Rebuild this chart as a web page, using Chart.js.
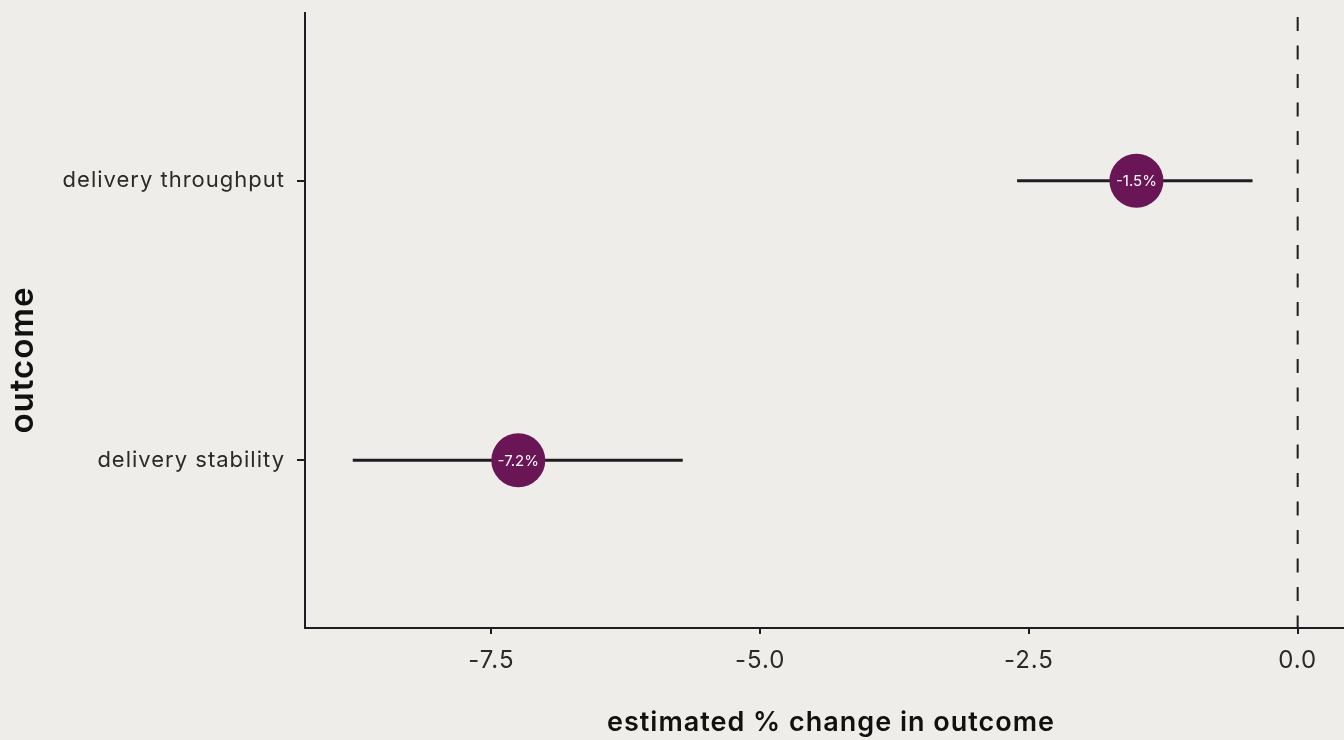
<!DOCTYPE html>
<html>
<head>
<meta charset="utf-8">
<script src="https://cdn.jsdelivr.net/npm/chart.js@4.4.1/dist/chart.umd.min.js"></script>
<style>
  html, body { margin: 0; padding: 0; background: #eeede9; }
  canvas { display: block; }
</style>
</head>
<body>
<canvas id="chart" width="1344" height="740"></canvas>
<script>
// outcomes, top to bottom
var outcomes = ["delivery throughput", "delivery stability"];
var estimates = [-1.5, -7.25];
var lowerBounds = [-2.61, -8.79];
var upperBounds = [-0.42, -5.72];
var pointLabels = ["-1.5%", "-7.2%"];
var xTicks = [-7.5, -5.0, -2.5, 0.0];
var xTitle = "estimated % change in outcome";
var yTitle = "outcome";

var ink = "#1e1e22";
var textColor = "#2a2a2a";
var titleColor = "#111111";
var dotColor = "#6a1555";

var datasets = [{
    type: 'scatter',
    data: estimates.map(function (v, i) { return { x: v, y: i }; }),
    pointRadius: 27,
    pointHoverRadius: 27,
    pointBackgroundColor: dotColor,
    pointBorderWidth: 0,
    showLine: false
}];
// horizontal interval bars, one line per outcome
outcomes.forEach(function (name, i) {
    datasets.push({
        type: 'line',
        data: [{ x: lowerBounds[i], y: i }, { x: upperBounds[i], y: i }],
        borderColor: ink,
        borderWidth: 3,
        pointRadius: 0,
        fill: false
    });
});

// a little tracking on all text, like the original
var spacing = {
    id: 'spacing',
    beforeDraw: function (chart) { chart.ctx.letterSpacing = '1px'; }
};

// axis titles sit a bit off the plot centre in the original, so place them by hand
var axisTitles = {
    id: 'axisTitles',
    afterDraw: function (chart) {
        var ctx = chart.ctx;
        ctx.save();
        ctx.fillStyle = titleColor;
        ctx.textAlign = "center";
        ctx.textBaseline = "middle";
        ctx.font = "600 27px Inter";
        ctx.fillText(xTitle, 831, 723);
        ctx.translate(23, 360);
        ctx.rotate(-Math.PI / 2);
        ctx.font = "600 33px Inter";
        ctx.fillText(yTitle, 0, 0);
        ctx.restore();
    }
};

// dashed reference line at zero
var zeroLine = {
    id: 'zeroLine',
    beforeDatasetsDraw: function (chart) {
        var ctx = chart.ctx;
        var x = chart.scales.x.getPixelForValue(0);
        ctx.save();
        ctx.strokeStyle = ink;
        ctx.lineWidth = 2;
        ctx.setLineDash([14, 14.5]);
        ctx.lineDashOffset = -4;
        ctx.beginPath();
        ctx.moveTo(x, chart.chartArea.top);
        ctx.lineTo(x, chart.chartArea.bottom);
        ctx.stroke();
        ctx.restore();
    }
};

// white percent labels inside the dots
var dotLabels = {
    id: 'dotLabels',
    afterDatasetsDraw: function (chart) {
        var ctx = chart.ctx;
        var meta = chart.getDatasetMeta(0);
        ctx.save();
        ctx.letterSpacing = '0px';
        ctx.fillStyle = "#ffffff";
        ctx.font = "15px Inter";
        ctx.textAlign = "center";
        ctx.textBaseline = "middle";
        meta.data.forEach(function (pt, i) {
            ctx.fillText(pointLabels[i], pt.x, pt.y + 1);
        });
        ctx.restore();
    }
};

var ctx = document.getElementById('chart');
var chart = new Chart(ctx, {
    data: { datasets: datasets },
    options: {
        responsive: false,
        animation: false,
        layout: { autoPadding: false, padding: { top: 13, right: 0, left: 0, bottom: 0 } },
        plugins: { legend: { display: false }, tooltip: { enabled: false } },
        scales: {
            x: {
                type: 'linear',
                min: -9.234,
                max: 0.431,
                afterFit: function (s) {
                    s.height = 112;
                    s.paddingLeft = 0;
                    s.paddingRight = 0;
                },
                afterBuildTicks: function (s) {
                    s.ticks = xTicks.map(function (v) { return { value: v }; });
                },
                border: { color: ink, width: 2 },
                grid: { drawOnChartArea: false, drawTicks: true, tickLength: 6, color: ink, lineWidth: 2 },
                ticks: {
                    color: textColor,
                    font: { family: "Inter", size: 24 },
                    padding: 12,
                    maxRotation: 0,
                    callback: function (v) { return v.toFixed(1); }
                }
            },
            y: {
                type: 'linear',
                reverse: true,
                min: -0.6,
                max: 1.6,
                afterFit: function (s) {
                    s.width = 305;
                    s.paddingTop = 0;
                    s.paddingBottom = 0;
                },
                afterBuildTicks: function (s) {
                    s.ticks = outcomes.map(function (n, i) { return { value: i }; });
                },
                border: { color: ink, width: 2 },
                grid: { drawOnChartArea: false, drawTicks: true, tickLength: 8, color: ink, lineWidth: 2 },
                ticks: {
                    color: textColor,
                    font: { family: "Inter", size: 22 },
                    padding: 12,
                    callback: function (v) { return outcomes[v]; }
                }
            }
        }
    },
    plugins: [spacing, zeroLine, dotLabels, axisTitles]
});
</script>
</body>
</html>
